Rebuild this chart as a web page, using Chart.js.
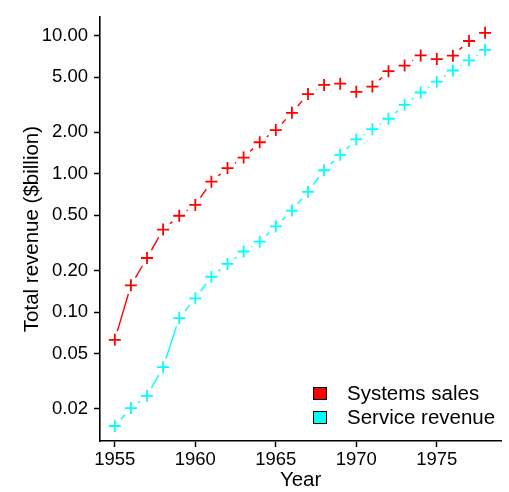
<!DOCTYPE html>
<html>
<head>
<meta charset="utf-8">
<script src="https://cdn.jsdelivr.net/npm/chart.js@4"></script>
<style>
  html, body { margin: 0; padding: 0; background: #fff; }
  #wrap { position: relative; width: 509px; height: 492px; }
  #legend {
    position: absolute; left: 313px; top: 381px;
    font-family: "Liberation Sans", Arial, sans-serif; font-size: 20.5px; color: #000;
  }
  .item { display: flex; align-items: center; height: 24px; }
  .box { width: 12px; height: 11px; border: 1.5px solid #000; margin-right: 20px; }
</style>
</head>
<body>
<div id="wrap">
  <canvas id="revenueChart" width="509" height="492"></canvas>
  <div id="legend"></div>
</div>
<script>
const years = [1955, 1956, 1957, 1958, 1959, 1960, 1961, 1962, 1963, 1964, 1965, 1966,
               1967, 1968, 1969, 1970, 1971, 1972, 1973, 1974, 1975, 1976, 1977, 1978];
const systemsSales = [0.063, 0.156, 0.246, 0.395, 0.497, 0.595, 0.877, 1.10, 1.31, 1.69, 2.07, 2.76,
                      3.77, 4.39, 4.48, 3.91, 4.27, 5.52, 6.06, 7.17, 6.75, 7.14, 9.12, 10.45];
const serviceRevenue = [0.0150, 0.0202, 0.0248, 0.0399, 0.0905, 0.1256, 0.180, 0.223, 0.274, 0.323, 0.417, 0.542,
                        0.740, 1.06, 1.37, 1.77, 2.10, 2.50, 3.15, 3.87, 4.63, 5.58, 6.61, 7.87];
const yTicks = [0.02, 0.05, 0.1, 0.2, 0.5, 1, 2, 5, 10];
const xTicks = [1955, 1960, 1965, 1970, 1975];

const FONT = "'Liberation Sans', Arial, sans-serif";
const GAP = 9; // lines stop short of each marker

// each segment is stroked on its own, leaving a gap at both ends
const gappedSegment = {
  borderDash: c => {
    const len = Math.hypot(c.p1.x - c.p0.x, c.p1.y - c.p0.y);
    return [0, GAP, Math.max(len - 2 * GAP, 0.01), len + 100];
  },
  borderDashOffset: c => c.p0DataIndex * 1e-4
};

function series(label, values, color) {
  return {
    label: label,
    data: years.map((y, i) => ({ x: y, y: values[i] })),
    borderColor: color,
    backgroundColor: color,
    borderWidth: 1.4,
    pointStyle: "cross",
    pointRadius: 6,
    pointBorderWidth: 1.8,
    pointBorderColor: color,
    tension: 0,
    segment: gappedSegment
  };
}

const datasets = [
  series("Systems sales", systemsSales, "#ff0000"),
  series("Service revenue", serviceRevenue, "#00ffff")
];

const ctx = document.getElementById("revenueChart").getContext("2d");

new Chart(ctx, {
  type: "line",
  data: { datasets: datasets },
  options: {
    responsive: false,
    animation: false,
    layout: { padding: { top: 10, right: 1, left: 0, bottom: 0 } },
    plugins: { legend: { display: false }, tooltip: { enabled: false } },
    scales: {
      x: {
        type: "linear",
        min: 1954.08,
        max: 1979.0,
        afterBuildTicks: scale => { scale.ticks = xTicks.map(v => ({ value: v })); },
        afterFit: scale => { scale.height = 51; },
        ticks: { color: "#000", font: { family: FONT, size: 18.5 }, padding: 2, maxRotation: 0, callback: v => String(v) },
        grid: { display: true, drawOnChartArea: false, drawTicks: true, tickLength: 6, color: "#000", tickWidth: 1.5 },
        border: { display: true, color: "#000", width: 1.6 },
        title: { display: true, text: "Year", color: "#000", font: { family: FONT, size: 20.5 }, padding: { top: 0, bottom: -1 } }
      },
      y: {
        type: "logarithmic",
        min: 0.01168,
        max: 13.58,
        afterBuildTicks: scale => { scale.ticks = yTicks.map(v => ({ value: v })); },
        afterFit: scale => { scale.width = 100; },
        ticks: {
          color: "#000",
          font: { family: FONT, size: 18.5 },
          padding: 6,
          callback: v => Number(v).toFixed(2)
        },
        grid: { display: true, drawOnChartArea: false, drawTicks: true, tickLength: 6, color: "#000", tickWidth: 1.5 },
        border: { display: true, color: "#000", width: 1.6 },
        title: { display: true, text: "Total revenue ($billion)", color: "#000", font: { family: FONT, size: 20.5 }, padding: { top: 20.5, bottom: 0 } }
      }
    }
  }
});

const legend = document.getElementById("legend");
datasets.forEach(ds => {
  const item = document.createElement("div");
  item.className = "item";
  item.innerHTML = `<span class="box" style="background:${ds.borderColor}"></span><span>${ds.label}</span>`;
  legend.appendChild(item);
});
</script>
</body>
</html>
